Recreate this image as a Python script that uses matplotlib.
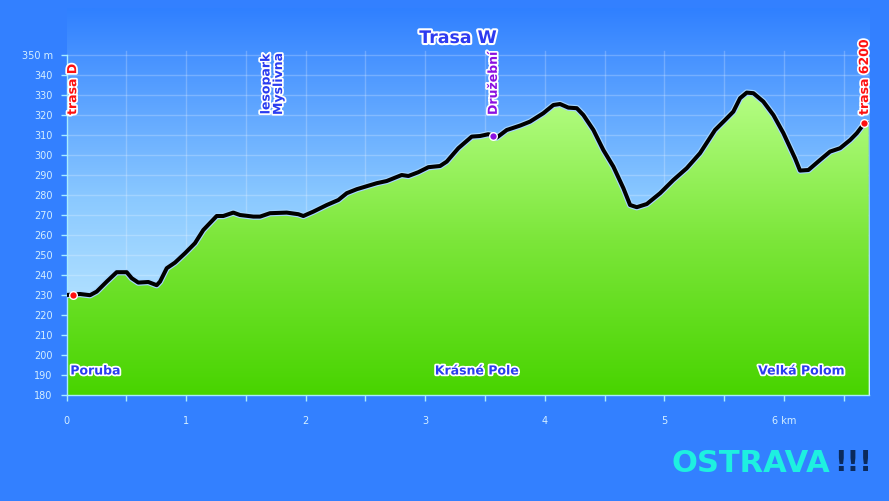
import numpy as np
import matplotlib
matplotlib.use('Agg')
import matplotlib.pyplot as plt
import matplotlib.patheffects as pe
from matplotlib.colors import LinearSegmentedColormap

# profil trasy W (km, m n.m.)
km = [0.000, 0.111, 0.195, 0.251, 0.335, 0.418, 0.502, 0.544, 0.599, 0.683,
      0.753, 0.781, 0.837, 0.906, 0.990, 1.073, 1.143, 1.255, 1.310, 1.394,
      1.450, 1.562, 1.618, 1.701, 1.841, 1.938, 1.980, 2.064, 2.176, 2.273,
      2.343, 2.427, 2.594, 2.678, 2.803, 2.859, 2.942, 3.026, 3.124, 3.180,
      3.277, 3.389, 3.459, 3.528, 3.570, 3.598, 3.682, 3.793, 3.877, 3.988,
      4.072, 4.128, 4.197, 4.268, 4.323, 4.407, 4.490, 4.574, 4.658, 4.714,
      4.770, 4.854, 4.965, 5.076, 5.188, 5.299, 5.425, 5.509, 5.578, 5.634,
      5.690, 5.746, 5.829, 5.913, 5.997, 6.094, 6.136, 6.206, 6.303, 6.387,
      6.471, 6.555, 6.611, 6.675, 6.710]
elev = [230.0, 230.5, 229.9, 231.7, 236.7, 241.4, 241.4, 238.4, 236.2, 236.5,
        234.9, 236.7, 243.4, 246.2, 250.9, 255.9, 262.5, 269.5, 269.5, 271.2,
        270.0, 269.2, 269.2, 270.9, 271.2, 270.4, 269.5, 271.7, 275.0, 277.5,
        280.9, 282.9, 285.9, 287.0, 290.0, 289.5, 291.4, 293.9, 294.5, 296.7,
        303.4, 309.2, 309.5, 310.4, 309.7, 308.7, 312.5, 314.7, 316.7, 320.9,
        325.0, 325.5, 323.7, 323.4, 320.0, 312.5, 302.5, 294.2, 283.4, 275.0,
        273.9, 275.5, 280.9, 287.5, 293.4, 300.9, 312.5, 317.5, 321.7, 328.4,
        331.2, 330.9, 326.7, 320.0, 310.9, 298.4, 292.2, 292.5, 297.5, 301.7,
        303.4, 307.5, 310.9, 315.9, 315.9]

# body na trase
stop_names = ['trasa D', 'lesopark\nMyslivna', 'Družební', 'trasa 6200']
stop_km = [0.05, 1.72, 3.57, 6.675]
stop_elev = [230.0, None, 309.7, 315.9]
stop_colors = ['#ff1010', '#2a3cf0', '#8a10e0', '#ff1010']

places = ['Poruba', 'Krásné Pole', 'Velká Polom']
place_km = [0.03, 3.43, 6.145]
place_ha = ['left', 'center', 'center']

y_ticks = list(range(180, 351, 10))
y_labels = [str(v) for v in y_ticks[:-1]] + ['350 m']
x_ticks = [0, 1, 2, 3, 4, 5, 6]
x_labels = ['0', '1', '2', '3', '4', '5', '6 km']

bg = '#3380ff'
tick_col = '#d5efff'
fig = plt.figure(figsize=(8.89, 5.01), dpi=100, facecolor=bg)
ax = fig.add_axes([66.7 / 889, 1 - 395 / 501, (869 - 66.7) / 889, 387 / 501])
xmax = 6.713
ymin, ymax = 180, 373.5
ax.set_xlim(0, xmax)
ax.set_ylim(ymin, ymax)
ax.set_facecolor(bg)

# obloha - prechod
sky = LinearSegmentedColormap.from_list('sky', ['#d2f5ff', '#8ccaff', '#3080ff'])
grad = np.linspace(0, 1, 256).reshape(-1, 1)
ax.imshow(grad, cmap=sky, origin='lower', aspect='auto',
          extent=[0, xmax, ymin, ymax], zorder=0)

# mrizka
for v in np.arange(0.5, 6.6, 0.5):
    ax.plot([v, v], [180, 352], color='#ffffff', alpha=0.22, lw=1, zorder=1)
for v in y_ticks[1:]:
    ax.plot([0, xmax], [v, v], color='#ffffff', alpha=0.22, lw=1, zorder=1)

# zelena plocha s prechodem
poly = ax.fill_between(km, elev, ymin, color='none', zorder=2)
green = LinearSegmentedColormap.from_list('green', ['#48d400', '#7ce63a', '#b8ff88'])
img = ax.imshow(grad, cmap=green, origin='lower', aspect='auto',
                extent=[0, xmax, ymin, 335], zorder=2)
img.set_clip_path(poly.get_paths()[0], transform=ax.transData)
ax.set_ylim(ymin, ymax)

ax.plot(km, elev, color='black', lw=2.9, solid_joinstyle='round', zorder=3,
        path_effects=[pe.Stroke(linewidth=4.6, foreground='#a5d6ff'), pe.Normal()])

halo = [pe.withStroke(linewidth=2.5, foreground='white')]
for name, x, e, c in zip(stop_names, stop_km, stop_elev, stop_colors):
    if e is not None:
        ax.plot(x, e, 'o', ms=5.5, color=c, mec='white', mew=1, zorder=4)
    ax.text(x, 320, name, rotation=90, ha='center', va='bottom', color=c,
            fontsize=9, fontweight='bold', linespacing=0.95,
            path_effects=halo, zorder=5)

for name, x, ha in zip(places, place_km, place_ha):
    ax.text(x, 192, name, ha=ha, va='center', color='#2a3cf0', fontsize=9,
            fontweight='bold', path_effects=halo, zorder=5)

ax.text(3.275, 358.5, 'Trasa W', ha='center', va='center', color='#2d3af0',
        fontsize=12.5, fontweight='bold',
        path_effects=[pe.withStroke(linewidth=3, foreground='white')], zorder=5)

# osy
for s in ['top', 'right']:
    ax.spines[s].set_visible(False)
for s in ['left', 'bottom']:
    ax.spines[s].set_color('#a8ecff')
    ax.spines[s].set_linewidth(1)
ax.spines['left'].set_bounds(180, 350)
ax.set_yticks(y_ticks)
ax.set_yticklabels(y_labels)
ax.set_xticks(x_ticks)
ax.set_xticklabels(x_labels)
ax.set_xticks(np.arange(0.5, 6.6, 1.0), minor=True)
ax.tick_params(axis='both', colors='#a8ecff', labelcolor=tick_col, labelsize=7,
               length=4, width=1)
ax.tick_params(axis='x', which='both', pad=11)
ax.tick_params(axis='x', which='minor', length=4, width=1, colors='#a8ecff')
ax.tick_params(axis='y', pad=6)

# logo
fig.text(830 / 889, 1 - 463 / 501, 'OSTRAVA', ha='right', va='center',
         color='#1ef0e0', fontsize=22, fontweight='bold')
fig.text(834 / 889, 1 - 463 / 501, '!!!', ha='left', va='center',
         color='#0b2a5c', fontsize=20, fontweight='bold')

fig.savefig('out.png', dpi=100, facecolor=bg)
